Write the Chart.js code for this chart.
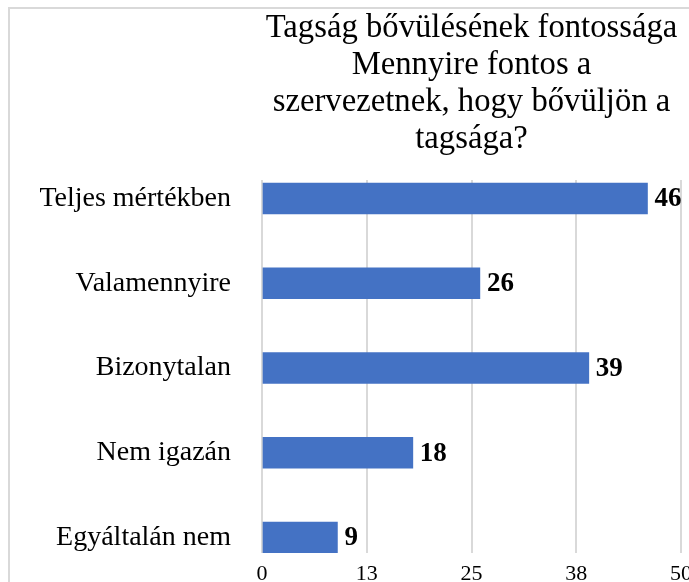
<!DOCTYPE html>
<html>
<head>
<meta charset="utf-8">
<script src="https://cdn.jsdelivr.net/npm/chart.js@4/dist/chart.umd.min.js"></script>
<style>
  html, body { margin: 0; padding: 0; background: #fff; overflow: hidden; width: 689px; height: 582px; }
  #frame { position: absolute; left: 8px; top: 7px; width: 900px; height: 800px; border: 2px solid #d9d9d9; box-sizing: border-box; }
  #c { position: absolute; left: 0; top: 0; }
</style>
</head>
<body>
<div id="frame"></div>
<canvas id="c" width="689" height="600"></canvas>
<script>
const titleLines = ["Tagság bővülésének fontossága", "Mennyire fontos a", "szervezetnek, hogy bővüljön a", "tagsága?"];
const categories = ["Teljes mértékben", "Valamennyire", "Bizonytalan", "Nem igazán", "Egyáltalán nem"];
const values = [46, 26, 39, 18, 9];
const xTicks = [0, 12.5, 25, 37.5, 50];

const serif = "'Liberation Serif', 'Times New Roman', Times, serif";

const valueLabels = {
  id: 'valueLabels',
  afterDatasetsDraw(chart) {
    const ctx = chart.ctx;
    const meta = chart.getDatasetMeta(0);
    ctx.save();
    ctx.font = "bold 27px " + serif;
    ctx.fillStyle = '#000';
    ctx.textAlign = 'left';
    ctx.textBaseline = 'middle';
    meta.data.forEach((bar, i) => {
      ctx.fillText(String(values[i]), bar.x + 7, bar.y + 1);
    });
    ctx.restore();
  }
};

new Chart(document.getElementById('c'), {
  type: 'bar',
  data: {
    datasets: [{
      data: values.map((v, i) => ({ x: v, y: i })),
      backgroundColor: '#4472C4',
      borderWidth: 0,
      barThickness: 31
    }]
  },
  options: {
    indexAxis: 'y',
    responsive: false,
    animation: false,
    devicePixelRatio: 1,
    layout: { padding: { left: 0, right: 8, top: 0, bottom: 0 } },
    plugins: {
      legend: { display: false },
      tooltip: { enabled: false },
      title: {
        display: true,
        fullSize: false,
        text: titleLines,
        color: '#000',
        font: { family: serif, size: 32.7, weight: 'normal', lineHeight: 1.1315 },
        padding: { top: 10, bottom: 22 }
      }
    },
    scales: {
      x: {
        type: 'linear',
        position: 'bottom',
        min: xTicks[0],
        max: xTicks[xTicks.length - 1],
        afterBuildTicks: (s) => { s.ticks = xTicks.map(v => ({ value: v })); },
        ticks: {
          callback: (v) => String(Math.round(v)),
          color: '#000',
          font: { family: serif, size: 22 },
          padding: 8,
          maxRotation: 0,
          autoSkip: false
        },
        grid: { color: '#d9d9d9', lineWidth: 2, drawTicks: false },
        border: { display: false },
        afterFit: (s) => { s.height = 47; s.paddingLeft = 0; s.paddingRight = 0; }
      },
      y: {
        type: 'linear',
        reverse: true,
        offset: false,
        min: -0.2183,
        max: 4.1829,
        ticks: {
          stepSize: 1,
          includeBounds: false,
          autoSkip: false,
          callback: (v) => Number.isInteger(v) ? categories[v] : '',
          color: '#000',
          font: { family: serif, size: 28 },
          padding: 31
        },
        grid: { display: false, drawTicks: false, offset: false },
        border: { display: false },
        afterFit: (s) => { s.width = 262; s.paddingTop = 0; s.paddingBottom = 0; }
      }
    }
  },
  plugins: [valueLabels]
});
</script>
</body>
</html>
